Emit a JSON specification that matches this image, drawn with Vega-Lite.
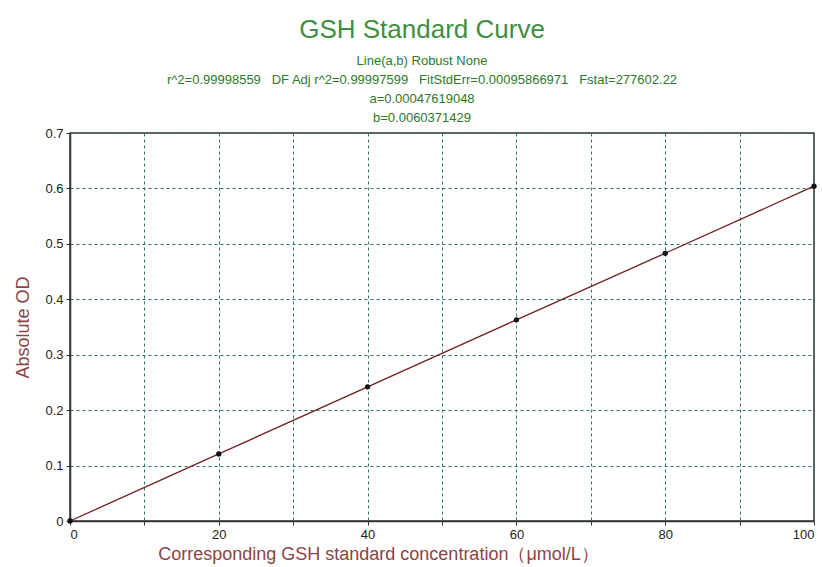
{
  "$schema": "https://vega.github.io/schema/vega-lite/v6.json",
  "width": 744,
  "height": 388,
  "autosize": {"type": "none"},
  "padding": {"left": 70, "top": 133, "right": 8, "bottom": 46},
  "background": "white",
  "title": {
    "text": "GSH Standard Curve",
    "subtitle": ["Line(a,b) Robust None", "r^2=0.99998559\u00a0\u00a0\u00a0DF Adj r^2=0.99997599\u00a0\u00a0\u00a0FitStdErr=0.00095866971\u00a0\u00a0\u00a0Fstat=277602.22", "a=0.00047619048", "b=0.0060371429"],
    "anchor": "middle",
    "dx": -20,
    "offset": 2,
    "font": "Liberation Sans",
    "fontSize": 26,
    "fontWeight": "normal",
    "color": "#3f8f3f",
    "subtitleFont": "Liberation Sans",
    "subtitleFontSize": 13,
    "subtitleLineHeight": 19,
    "subtitleColor": "#2b7a2b",
    "subtitlePadding": 12
  },
  "data": {
    "values": [
      {"conc": 0, "od": 0.000},
      {"conc": 20, "od": 0.121},
      {"conc": 40, "od": 0.242},
      {"conc": 60, "od": 0.363},
      {"conc": 80, "od": 0.483},
      {"conc": 100, "od": 0.604}
    ]
  },
  "encoding": {
    "x": {
      "field": "conc",
      "type": "quantitative",
      "scale": {"domain": [0, 100], "nice": false},
      "axis": {
        "values": [0, 10, 20, 30, 40, 50, 60, 70, 80, 90, 100],
        "labelExpr": "datum.value % 20 === 0 ? datum.label : ''",
        "title": "Corresponding GSH standard concentration（μmol/L）",
        "titleX": 308,
        "titleFontSize": 18,
        "titlePadding": 4
      }
    },
    "y": {
      "field": "od",
      "type": "quantitative",
      "scale": {"domain": [0, 0.7], "nice": false},
      "axis": {
        "values": [0, 0.1, 0.2, 0.3, 0.4, 0.5, 0.6, 0.7],
        "labelExpr": "datum.value === 0 ? '0' : format(datum.value, '.1f')",
        "title": "Absolute OD",
        "titleFontSize": 18,
        "titlePadding": 12
      }
    }
  },
  "layer": [
    {"mark": {"type": "line", "color": "#6e1f1f", "strokeWidth": 1.3}},
    {"mark": {"type": "point", "filled": true, "color": "#111111", "size": 28, "opacity": 1}}
  ],
  "config": {
    "view": {"stroke": "#333333", "strokeWidth": 1.5},
    "axis": {
      "grid": true,
      "gridColor": "#2e7272",
      "gridDash": [3, 3],
      "gridWidth": 1,
      "gridOpacity": 1,
      "domainColor": "#333333",
      "domainWidth": 1.5,
      "tickColor": "#333333",
      "tickSize": 4,
      "labelFont": "Liberation Sans",
      "labelFontSize": 13,
      "labelColor": "#222222",
      "labelPadding": 3,
      "titleFont": "Liberation Sans",
      "titleFontWeight": "normal",
      "titleColor": "#8e4444"
    }
  }
}
